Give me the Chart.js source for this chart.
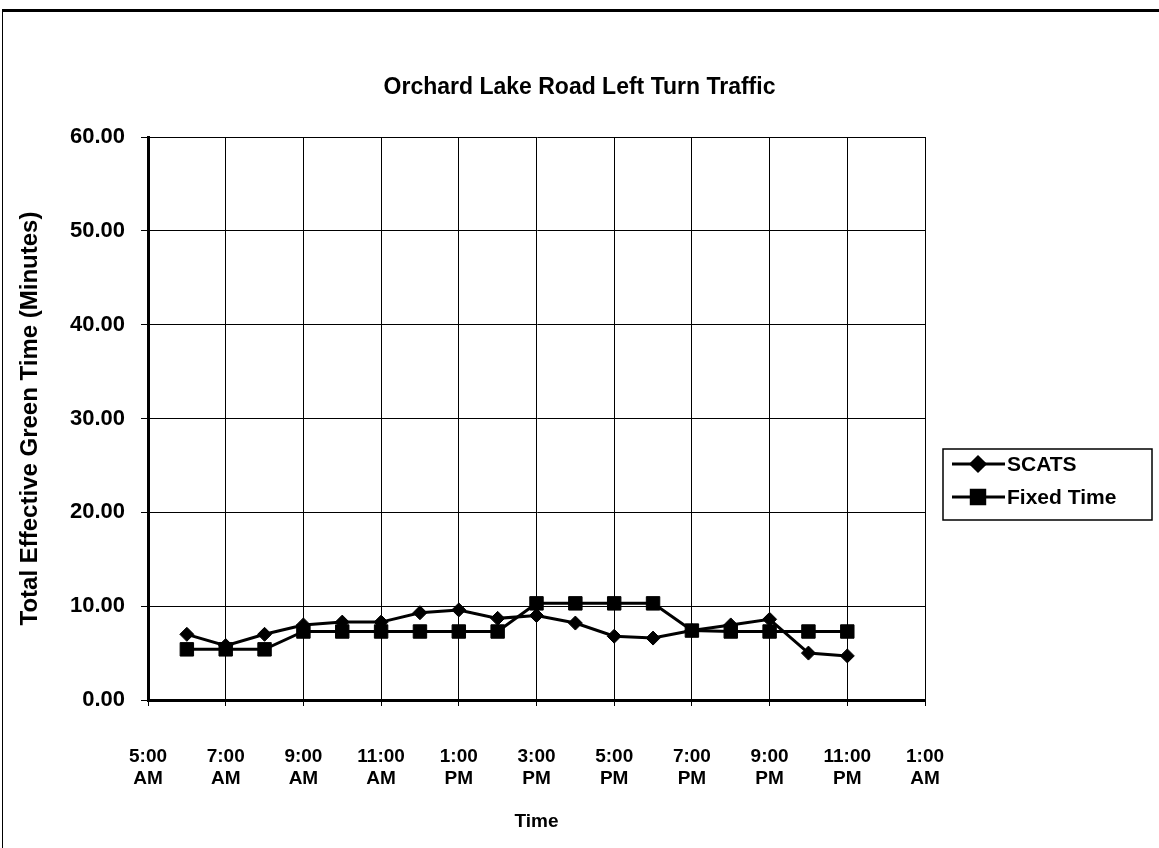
<!DOCTYPE html>
<html>
<head>
<meta charset="utf-8">
<script src="https://cdn.jsdelivr.net/npm/chart.js@4"></script>
<style>
  body { margin: 0; background: #fff; }
  #wrap { position: relative; width: 1159px; height: 848px; }
  #frame { position: absolute; left: 2px; top: 9px; right: -10px; bottom: -10px;
           border-top: 3px solid #000; border-left: 1px solid #000; pointer-events: none; }
</style>
</head>
<body>
<div id="wrap">
  <canvas id="chart" width="1159" height="848"></canvas>
  <div id="frame"></div>
</div>
<script>
// hours since midnight (24 = midnight, 25 = 1 AM)
const hours = [6, 7, 8, 9, 10, 11, 12, 13, 14, 15, 16, 17, 18, 19, 20, 21, 22, 23];
const scats = [7.0, 5.8, 7.0, 8.0, 8.3, 8.3, 9.3, 9.6, 8.7, 9.0, 8.2, 6.8, 6.6, 7.4, 8.0, 8.6, 5.0, 4.7];
const fixedTime = [5.4, 5.4, 5.4, 7.3, 7.3, 7.3, 7.3, 7.3, 7.3, 10.3, 10.3, 10.3, 10.3, 7.4, 7.3, 7.3, 7.3, 7.3];
const xTickLabels = ['5:00 AM', '7:00 AM', '9:00 AM', '11:00 AM', '1:00 PM', '3:00 PM',
  '5:00 PM', '7:00 PM', '9:00 PM', '11:00 PM', '1:00 AM'];
const chartTitle = 'Orchard Lake Road Left Turn Traffic';

const FONT = 'Liberation Sans, Arial, Helvetica, sans-serif';

const toPoints = (vals) => vals.map((v, i) => ({ x: hours[i], y: v }));

// title centred on the whole picture, and a boxed legend with line + marker
const decorations = {
  id: 'decorations',
  afterDraw(chart) {
    const ctx = chart.ctx;
    ctx.save();
    ctx.fillStyle = '#000';
    ctx.strokeStyle = '#000';
    ctx.font = 'bold 23px ' + FONT;
    ctx.textAlign = 'center';
    ctx.textBaseline = 'middle';
    ctx.fillText(chartTitle, chart.width / 2, 88);

    const x0 = 943, y0 = 449, w = 209, h = 71;
    ctx.lineWidth = 1.5;
    ctx.strokeRect(x0, y0, w, h);
    ctx.font = 'bold 21px ' + FONT;
    ctx.textAlign = 'left';
    chart.data.datasets.forEach((ds, i) => {
      const y = y0 + 15 + i * 33;
      ctx.lineWidth = ds.borderWidth;
      ctx.beginPath();
      ctx.moveTo(952, y);
      ctx.lineTo(1005, y);
      ctx.stroke();
      Chart.helpers.drawPoint(ctx, {
        pointStyle: ds.pointStyle, radius: ds.pointRadius, borderWidth: 1
      }, 978, y);
      ctx.fill();
      ctx.fillText(ds.label, 1007, y + 1);
    });
    ctx.restore();
  }
};

new Chart(document.getElementById('chart'), {
  type: 'line',
  data: {
    datasets: [
      {
        label: 'SCATS',
        data: toPoints(scats),
        borderColor: '#000',
        backgroundColor: '#000',
        borderWidth: 3,
        pointStyle: 'rectRot',
        pointRadius: 7,
        pointBorderWidth: 1
      },
      {
        label: 'Fixed Time',
        data: toPoints(fixedTime),
        borderColor: '#000',
        backgroundColor: '#000',
        borderWidth: 3,
        pointStyle: 'rect',
        pointRadius: 9.5,
        pointBorderWidth: 1
      }
    ]
  },
  options: {
    responsive: false,
    animation: false,
    layout: { padding: { top: 137, left: 0, right: 234, bottom: 0 } },
    plugins: {
      legend: { display: false },
      tooltip: { enabled: false },
      title: { display: false }
    },
    scales: {
      x: {
        type: 'linear',
        min: 5,
        max: 25,
        afterFit: (s) => { s.height = 148; },
        ticks: {
          stepSize: 2,
          color: '#000',
          font: { family: FONT, size: 19, weight: 'bold', lineHeight: 1.2 },
          padding: 39,
          maxRotation: 0,
          callback: (v) => {
            const lbl = xTickLabels[Math.round((v - 5) / 2)];
            return lbl ? lbl.split(' ') : '';
          }
        },
        grid: { color: '#000', lineWidth: 1, tickLength: 6 },
        border: { color: '#000', width: 3 },
        title: {
          display: true,
          text: 'Time',
          color: '#000',
          font: { family: FONT, size: 19, weight: 'bold' },
          padding: { top: 0, bottom: 15 }
        }
      },
      y: {
        min: 0,
        max: 60,
        afterFit: (s) => { s.width = 148; },
        ticks: {
          stepSize: 10,
          color: '#000',
          font: { family: FONT, size: 22, weight: 'bold' },
          padding: 16,
          callback: (v) => v.toFixed(2)
        },
        grid: { color: '#000', lineWidth: 1, tickLength: 7 },
        border: { color: '#000', width: 3 },
        title: {
          display: true,
          text: 'Total Effective Green Time (Minutes)',
          color: '#000',
          font: { family: FONT, size: 24, weight: 'bold' },
          padding: { top: 16, bottom: 0 }
        }
      }
    }
  },
  plugins: [decorations]
});
</script>
</body>
</html>
